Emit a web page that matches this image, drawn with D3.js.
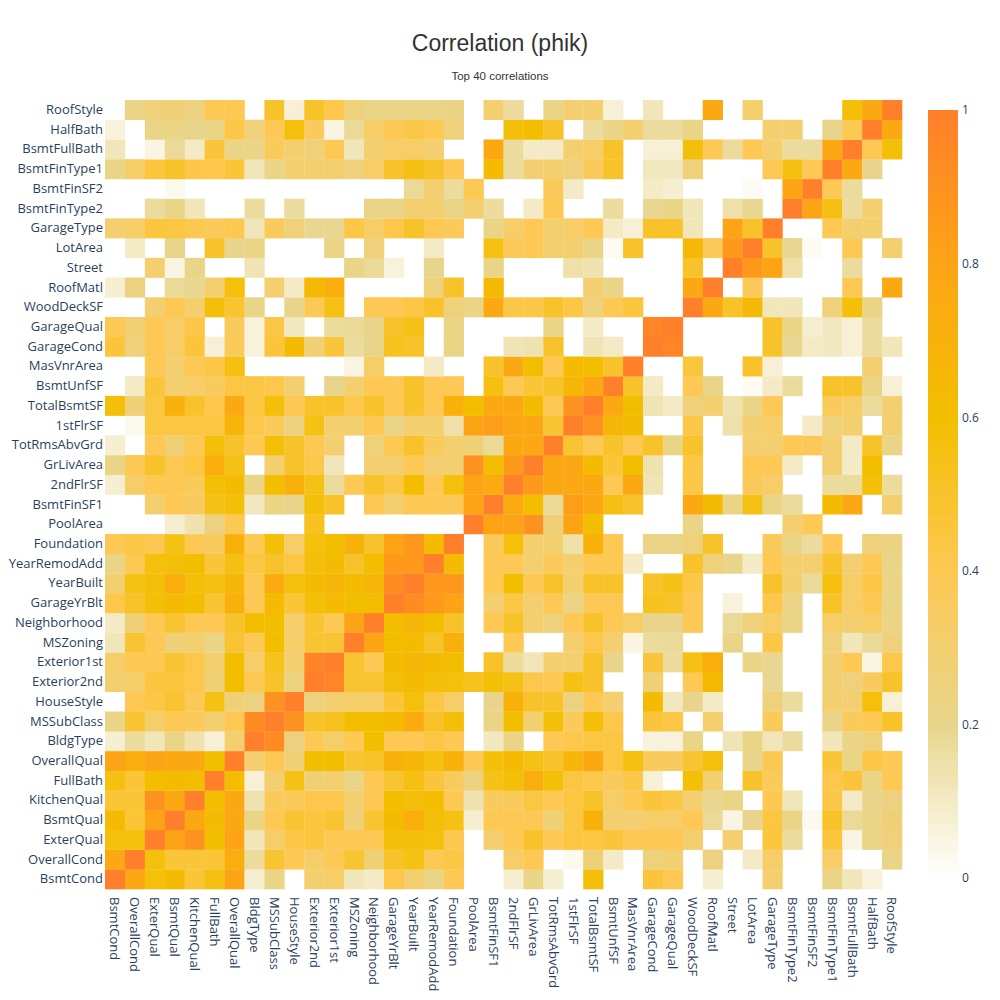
<!DOCTYPE html>
<html>
<head>
<meta charset="utf-8">
<script src="https://d3js.org/d3.v7.min.js"></script>
<style>
  body { margin: 0; background: #fff; }
  .tick text { font-family: "Open Sans", verdana, arial, sans-serif; font-size: 13px; fill: #2a3f5f; }
  .cbar .tick text { font-size: 12px; }
</style>
</head>
<body>
<svg class="heatmap" width="1000" height="1000"></svg>
<script>
// labels, bottom row / left column first
let labels = ["BsmtCond", "OverallCond", "ExterQual", "BsmtQual", "KitchenQual", "FullBath", "OverallQual",
  "BldgType", "MSSubClass", "HouseStyle", "Exterior2nd", "Exterior1st", "MSZoning", "Neighborhood",
  "GarageYrBlt", "YearBuilt", "YearRemodAdd", "Foundation", "PoolArea", "BsmtFinSF1", "2ndFlrSF",
  "GrLivArea", "TotRmsAbvGrd", "1stFlrSF", "TotalBsmtSF", "BsmtUnfSF", "MasVnrArea", "GarageCond",
  "GarageQual", "WoodDeckSF", "RoofMatl", "Street", "LotArea", "GarageType", "BsmtFinType2",
  "BsmtFinSF2", "BsmtFinType1", "BsmtFullBath", "HalfBath", "RoofStyle"];

// lower triangle of the phik matrix: row i holds columns 0..i-1 (null = empty cell)
let phikRows = [
  [],
  [0.78],
  [0.57, 0.57],
  [0.62, 0.47, 0.8],
  [0.47, 0.47, 0.9, 0.77],
  [0.56, 0.47, 0.6, 0.63, 0.6],
  [0.8, 0.72, 0.8, 0.76, 0.77, 0.6],
  [0.08, 0.17, 0.12, 0.22, 0.14, 0.07, 0.3],
  [0.22, 0.48, 0.32, 0.4, 0.37, 0.3, 0.4, 0.93],
  [null, 0.4, 0.43, 0.48, 0.38, 0.55, 0.27, 0.24, 0.9],
  [0.3, 0.32, 0.45, 0.45, 0.42, 0.28, 0.6, 0.4, 0.5, 0.25],
  [0.32, 0.4, 0.4, 0.48, 0.42, 0.3, 0.6, 0.32, 0.53, 0.3, 0.97],
  [0.12, 0.48, 0.4, 0.27, 0.3, 0.22, 0.48, 0.4, 0.6, 0.32, 0.48, 0.48],
  [0.1, 0.27, 0.4, 0.48, 0.4, 0.4, 0.5, 0.6, 0.6, 0.32, 0.48, 0.4, 0.8],
  [0.42, 0.5, 0.58, 0.62, 0.6, 0.48, 0.7, 0.4, 0.62, 0.47, 0.58, 0.62, 0.6, 0.6],
  [0.3, 0.55, 0.58, 0.72, 0.58, 0.56, 0.66, 0.4, 0.75, 0.57, 0.62, 0.66, 0.62, 0.66, 0.93],
  [0.22, 0.4, 0.57, 0.58, 0.6, 0.46, 0.56, 0.44, 0.5, 0.44, 0.58, 0.63, 0.5, 0.6, 0.86, 0.86],
  [0.4, 0.43, 0.41, 0.55, 0.4, 0.36, 0.7, 0.4, 0.58, 0.33, 0.57, 0.6, 0.7, 0.5, 0.8, 0.87, 0.62],
  [null, null, null, 0.08, 0.14, 0.24, 0.4, null, null, null, 0.53, null, null, null, null, null, null, null],
  [null, null, 0.3, 0.4, 0.36, 0.54, 0.58, 0.11, 0.22, 0.2, 0.58, 0.5, null, 0.4, 0.3, 0.4, 0.4, 0.38, 0.8],
  [0.08, 0.33, 0.4, 0.4, 0.37, 0.58, 0.62, 0.22, 0.6, 0.7, 0.55, 0.17, 0.4, 0.5, 0.43, 0.6, 0.4, 0.57, 0.8, 0.75],
  [0.22, 0.4, 0.5, 0.4, 0.44, 0.72, 0.55, null, 0.3, 0.5, 0.42, 0.12, null, 0.3, 0.3, 0.4, 0.3, 0.3, 0.9, 0.6, 0.86],
  [0.08, null, 0.4, 0.28, 0.4, 0.58, 0.5, 0.4, 0.58, 0.5, 0.4, 0.3, null, 0.26, 0.4, 0.5, 0.37, 0.3, 0.27, 0.18, 0.77, 0.77],
  [null, 0.03, 0.44, 0.44, 0.44, 0.44, 0.68, 0.42, 0.37, 0.24, 0.55, 0.3, 0.3, 0.4, 0.22, 0.3, 0.3, 0.15, 0.8, 0.83, 0.78, 0.78, 0.48],
  [0.58, 0.27, 0.44, 0.7, 0.5, 0.42, 0.77, 0.44, 0.58, 0.4, 0.5, 0.5, 0.42, 0.5, 0.4, 0.5, 0.4, 0.7, 0.6, 0.77, 0.77, 0.62, 0.4, 0.9],
  [null, 0.1, 0.46, 0.3, 0.33, 0.36, 0.44, 0.44, 0.42, 0.3, null, 0.2, 0.3, 0.4, 0.4, 0.5, 0.4, 0.4, null, 0.56, 0.4, 0.47, 0.5, 0.66, 0.77],
  [null, null, 0.4, 0.3, 0.4, 0.43, 0.56, null, null, null, null, null, 0.05, 0.33, null, null, 0.1, null, null, 0.5, 0.77, 0.6, 0.4, 0.62, 0.6, 0.5],
  [0.46, 0.26, 0.4, 0.33, 0.46, 0.07, 0.37, 0.06, 0.46, 0.62, 0.28, 0.46, 0.17, 0.2,
    0.53, 0.5, null, 0.22, null, null, 0.13, 0.14, 0.5, null, 0.13, 0.1, null],
  [0.4, 0.29, 0.4, 0.33, 0.43, null, 0.36, 0.06, 0.43, 0.11, null, 0.17, 0.18, 0.2,
    0.5, 0.54, null, 0.22, null, null, null, null, 0.22, null, 0.1, null, null, 0.97],
  [null, null, 0.3, 0.4, 0.3, 0.58, 0.48, 0.22, null, 0.2, 0.4, 0.55, null, 0.4,
    0.4, 0.43, 0.5, 0.26, 0.22, 0.77, 0.43, 0.43, 0.5, 0.43, 0.26, 0.4, 0.45, null, null],
  [0.08, 0.24, null, 0.18, 0.19, 0.3, 0.57, null, 0.3, 0.1, 0.64, 0.72, null, null,
    null, null, 0.26, 0.5, null, 0.63, null, null, null, null, 0.3, 0.22, null, null, null, 0.77],
  [null, null, 0.3, 0.05, 0.22, null, null, 0.13, null, null, null, null, 0.22, 0.18,
    0.06, null, 0.2, null, null, 0.22, null, null, null, 0.15, 0.14, null, null, null, null, 0.5, null],
  [null, 0.1, null, 0.2, null, 0.5, 0.2, 0.22, null, null, null, 0.22, null, 0.26,
    null, null, 0.1, null, null, 0.55, 0.38, 0.4, 0.3, 0.3, 0.22, 0.02, 0.5, null, null, 0.65, 0.38, 0.86],
  [0.3, 0.33, 0.45, 0.44, 0.41, 0.37, 0.41, 0.12, 0.37, 0.26, 0.19, 0.19, 0.43, 0.33,
    0.42, 0.5, 0.4, 0.37, null, 0.22, 0.33, 0.4, 0.3, 0.33, 0.4, 0.1, 0.07, 0.5, 0.5, 0.12, null, 0.8, 0.5],
  [null, null, 0.17, 0.22, 0.12, null, null, 0.17, null, 0.17, null, null, null, 0.22,
    0.22, 0.3, 0.3, 0.22, 0.3, 0.17, null, 0.1, 0.4, null, null, 0.17, null, 0.19, 0.22, 0.12, null, 0.15, 0.19, null],
  [null, null, null, 0.03, null, null, null, null, null, null, null, null, null, null,
    null, 0.18, 0.3, 0.17, 0.4, null, null, null, 0.38, 0.1, null, null, null, 0.1, 0.08, null, null, null, 0.02, null, 0.8],
  [0.22, 0.33, 0.45, 0.5, 0.43, 0.42, 0.47, 0.12, 0.21, 0.3, 0.3, 0.3, 0.26, 0.33,
    0.5, 0.56, 0.5, 0.4, null, 0.62, 0.17, 0.3, 0.3, 0.26, 0.37, 0.5, null, 0.11, 0.11, 0.26, null, null, null, 0.4, 0.56, 0.4],
  [0.12, null, 0.05, 0.18, 0.1, 0.46, 0.22, 0.22, 0.37, 0.3, 0.26, 0.4, 0.12, 0.3,
    0.33, 0.33, 0.3, null, null, 0.77, 0.17, 0.1, 0.1, 0.3, 0.33, 0.5, null, 0.07, 0.07, 0.58, 0.4, 0.17, 0.4, 0.3, 0.17, 0.17, 0.77],
  [0.06, null, 0.22, 0.22, 0.2, 0.22, 0.43, 0.26, 0.4, 0.57, 0.36, 0.05, 0.18, 0.33,
    0.4, 0.43, 0.4, 0.26, null, null, 0.58, 0.6, 0.5, null, 0.17, 0.22, 0.3, 0.17, 0.17, 0.22, null, null, null, 0.3, 0.3, null, 0.2, 0.4],
  [null, 0.22, 0.26, 0.27, 0.24, 0.4, 0.4, null, 0.5, 0.07, 0.5, 0.42, 0.26, 0.22,
    0.22, 0.22, 0.22, 0.23, null, 0.3, 0.17, null, 0.22, 0.3, 0.3, 0.07, null, 0.12, null, null, 0.77, null, 0.3, null, null, null, null, 0.58, 0.77]
];

// colour scale stops
let colorStops = [0, 0.2, 0.4, 0.6, 0.8, 1];
let colorRange = ["#ffffff", "#e8d58b", "#fdc853", "#f3be00", "#fda416", "#ff7f2a"];
let colorTicks = [0, 0.2, 0.4, 0.6, 0.8, 1];

let title = "Correlation (phik)";
let subtitle = "Top 40 correlations";

let drawHeatmap = function(){
  let svg = d3.select("body").select(".heatmap");

  //plot area like plotly's
  let margin = { top: 100, right: 98, bottom: 111, left: 105 };
  let plotWidth = 1000 - margin.left - margin.right;
  let plotHeight = 1000 - margin.top - margin.bottom;

  //build full symmetric matrix
  let cells = [];
  labels.forEach(function(rowLabel, i){
    labels.forEach(function(colLabel, j){
      let v = i == j ? 1 : (i > j ? phikRows[i][j] : phikRows[j][i]);
      if (v !== null && v !== undefined) {
        cells.push({row: rowLabel, col: colLabel, value: v});
      }
    });
  });

  //scales
  let xScale = d3.scaleBand().domain(labels).range([0, plotWidth]);
  let yScale = d3.scaleBand().domain(labels).range([plotHeight, 0]);
  let color = d3.scaleLinear().domain(colorStops).range(colorRange).interpolate(d3.interpolateRgb);

  let plot = svg.append("g").attr("id", "plot")
      .attr("transform", translate(margin.left, margin.top));

  plot.selectAll(".cell")
      .data(cells)
      .enter().append("rect")
      .attr("class", "cell")
      .attr("x", d => xScale(d.col))
      .attr("y", d => yScale(d.row))
      .attr("width", xScale.bandwidth() + 0.3)
      .attr("height", yScale.bandwidth() + 0.3)
      .attr("fill", d => color(d.value));

  //axes, no lines just labels
  let xAxis = d3.axisBottom(xScale).tickSize(0).tickPadding(0);
  let yAxis = d3.axisLeft(yScale).tickSize(0).tickPadding(2);

  let xGroup = plot.append("g").attr("id", "x-axis")
      .attr("transform", translate(0, plotHeight))
      .call(xAxis);
  xGroup.select(".domain").remove();
  xGroup.selectAll(".tick text")
      .attr("transform", "rotate(90)")
      .attr("x", 8)
      .attr("y", 0)
      .attr("dy", "0.35em")
      .style("text-anchor", "start");

  let yGroup = plot.append("g").attr("id", "y-axis").call(yAxis);
  yGroup.select(".domain").remove();

  //colour bar
  let barX = 928, barTop = 110, barBottom = 878, barWidth = 30;
  let defs = svg.append("defs");
  let grad = defs.append("linearGradient")
      .attr("id", "phik-grad")
      .attr("x1", "0").attr("y1", "1").attr("x2", "0").attr("y2", "0");
  d3.range(0, 1.0001, 0.05).forEach(function(t){
    grad.append("stop").attr("offset", t).attr("stop-color", color(t));
  });
  svg.append("rect")
      .attr("x", barX)
      .attr("y", barTop)
      .attr("width", barWidth)
      .attr("height", barBottom - barTop)
      .attr("fill", "url(#phik-grad)");

  let barScale = d3.scaleLinear().domain([0, 1]).range([barBottom, barTop]);
  let barAxis = d3.axisRight(barScale).tickValues(colorTicks).tickSize(0).tickPadding(4)
      .tickFormat(d3.format("~g"));
  let barGroup = svg.append("g")
      .attr("class", "cbar")
      .attr("transform", translate(barX + barWidth, 0))
      .call(barAxis);
  barGroup.select(".domain").remove();

  //titles
  svg.append("text")
      .attr("class", "title")
      .attr("x", 500)
      .attr("y", 51)
      .attr("text-anchor", "middle")
      .style("font-family", "'Liberation Sans', Arial, sans-serif")
      .style("font-size", "23px")
      .style("fill", "#333")
      .text(title);

  svg.append("text")
      .attr("class", "subtitle")
      .attr("x", 500)
      .attr("y", 80)
      .attr("text-anchor", "middle")
      .style("font-family", "'Liberation Sans', Arial, sans-serif")
      .style("font-size", "11.5px")
      .style("fill", "#333")
      .text(subtitle);
};

function translate(x, y) {
  return 'translate(' + x + ',' + y + ')';
}

drawHeatmap();
</script>
</body>
</html>
